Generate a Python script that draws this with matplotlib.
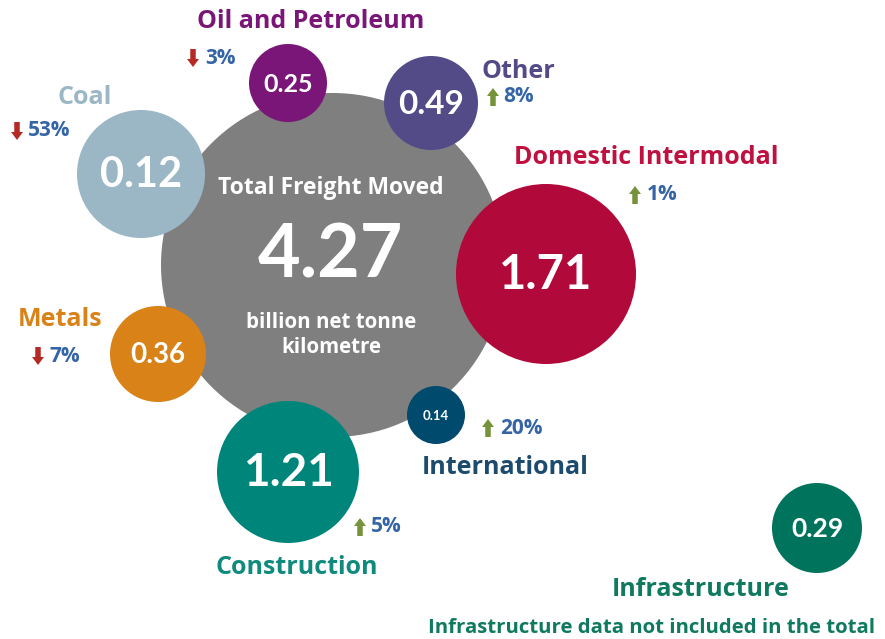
import matplotlib
matplotlib.use("Agg")
import matplotlib.pyplot as plt
from matplotlib.patches import Circle, FancyArrow

plt.rcParams['font.family'] = ['Open Sans', 'DejaVu Sans']

# ---- data ----
total_value = 4.27
total_title = "Total Freight Moved"
total_unit = "billion net tonne\nkilometre"
categories = ["Coal", "Oil and Petroleum", "Other", "Domestic Intermodal",
              "Metals", "Construction", "International", "Infrastructure"]
values = [0.12, 0.25, 0.49, 1.71, 0.36, 1.21, 0.14, 0.29]
changes = [-53, -3, 8, 1, -7, 5, 20, None]
footnote = "Infrastructure data not included in the total"

# ---- styling / layout (pixel space of the canvas) ----
colors = ["#9bb7c6", "#7a1677", "#524b87", "#b1093a",
          "#d98218", "#00857a", "#004a6e", "#00735c"]
label_colors = ["#9bb7c6", "#7a1677", "#524b87", "#c0103f",
                "#d98218", "#0f8a7d", "#1c4b6e", "#0f7a5f"]
# (cx, cy, r, value fontsize)
bubbles = [(141, 174, 64, 30), (288, 83, 39, 18), (431, 103, 47, 24),
           (546, 274, 90, 34), (158, 354, 48, 20), (288, 472, 71, 33),
           (436, 415, 29, 9.5), (817, 528, 45, 19)]
# label (x, y, ha, fontsize)
labels = [(85, 98, "center", 18), (311, 22, "center", 18), (518, 71, "center", 18),
          (646, 157, "center", 18), (60, 319, "center", 18), (297, 567, "center", 18),
          (505, 468, "center", 18), (701, 590, "center", 18)]
# change marker (arrow x, y center, text left x)
change_pos = [(17, 131, 28), (193, 58, 205), (493, 97, 503), (635, 195, 647),
              (38, 356, 50), (360, 527, 371), (488, 428, 500), None]
big = (333, 265, 172)

fig = plt.figure(figsize=(8.85, 6.39), dpi=100)
ax = fig.add_axes([0, 0, 1, 1])
ax.set_xlim(0, 885)
ax.set_ylim(639, 0)
ax.set_aspect("auto")
ax.axis("off")

num_font = ['Lato', 'DejaVu Sans']

# big total circle
ax.add_patch(Circle((big[0], big[1]), big[2], color="#7f7f7f", zorder=1, lw=0))
ax.text(big[0] - 2, 188, total_title, color="white", fontsize=16.5, fontweight="bold",
        ha="center", va="center", zorder=5)
ax.text(big[0] - 3, 256, f"{total_value:.2f}", color="white", fontsize=53,
        fontweight="bold", ha="center", va="center", zorder=5, family=num_font)
ax.text(big[0] - 2, 335, total_unit, color="white", fontsize=14.8, fontweight="bold",
        ha="center", va="center", zorder=5, linespacing=1.2)

for i, cat in enumerate(categories):
    cx, cy, r, fs = bubbles[i]
    ax.add_patch(Circle((cx, cy), r, color=colors[i], zorder=2, lw=0))
    ax.text(cx, cy + 1, f"{values[i]:.2f}", color="white", fontsize=fs,
            fontweight="bold", ha="center", va="center", zorder=5, family=num_font)
    lx, ly, ha, lfs = labels[i]
    ax.text(lx, ly, cat, color=label_colors[i], fontsize=lfs, fontweight="bold",
            ha=ha, va="center", zorder=5)
    ch = changes[i]
    if ch is not None:
        axx, ay, tx = change_pos[i]
        if ch < 0:
            ax.add_patch(FancyArrow(axx, ay - 9, 0, 18, width=5.5, head_width=12,
                                    head_length=8, length_includes_head=True,
                                    color="#b52a25", lw=0, zorder=5))
        else:
            ax.add_patch(FancyArrow(axx, ay + 9, 0, -18, width=5.5, head_width=12,
                                    head_length=8, length_includes_head=True,
                                    color="#76933c", lw=0, zorder=5))
        ax.text(tx, ay, f"{abs(ch)}%", color="#3565a6", fontsize=15,
                fontweight="bold", ha="left", va="center", zorder=5)

ax.text(652, 628, footnote, color="#0f7a5f", fontsize=14.7, fontweight="bold",
        ha="center", va="center")

fig.savefig("out.png", dpi=100, facecolor="white")
